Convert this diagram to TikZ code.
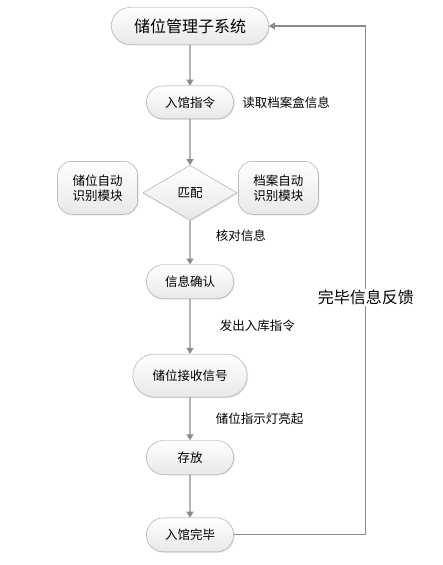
\documentclass[tikz,border=0pt]{standalone}
\usepackage{fontspec}
\setmainfont{Noto Sans CJK SC}
\usepackage{tikz}
\usetikzlibrary{arrows.meta, positioning, shapes.misc, shapes.geometric, shadows}

\begin{document}
\begin{tikzpicture}[
    node distance=42pt,
    auto,
    pill/.style={
        rounded rectangle,
        draw=gray!75,
        thin,
        top color=white,
        bottom color=gray!18,
        drop shadow={shadow xshift=1pt, shadow yshift=-1pt, opacity=0.2},
        minimum width=94pt,
        minimum height=33pt,
        font=\fontsize{12.5}{14}\selectfont
    },
    module/.style={
        rectangle,
        draw=gray!75,
        thin,
        top color=white,
        bottom color=gray!18,
        drop shadow={shadow xshift=1pt, shadow yshift=-1pt, opacity=0.2},
        rounded corners=14pt,
        minimum width=80pt,
        minimum height=53pt,
        align=center,
        font=\fontsize{12.5}{15}\selectfont
    },
    check/.style={
        diamond,
        draw=gray!75,
        thin,
        top color=white,
        bottom color=gray!18,
        drop shadow={shadow xshift=1pt, shadow yshift=-1pt, opacity=0.2},
        inner sep=0pt,
        minimum width=94pt,
        minimum height=55pt,
        font=\fontsize{12.5}{14}\selectfont
    },
    note/.style={
        text=black,
        font=\fontsize{12.5}{14}\selectfont
    },
    arrow/.style={
        -{Triangle[width=7pt,length=6pt]},
        line width=1.1pt,
        color=gray!90
    }
]

\useasboundingbox (0,0) rectangle (443pt,-565pt);

% Nodes
\node[pill, minimum width=164pt, minimum height=37pt, font=\fontsize{16}{18}\selectfont] (sys) at (190pt,-26pt) {储位管理子系统};
\node[pill, below=41pt of sys] (inbound) {入馆指令};
\node[note, right=5pt of inbound] (read) {读取档案盒信息};
\node[check, below=46pt of inbound] (match) {匹配};
\node[module, left=5pt of match, yshift=5pt] (slotid) {储位自动\\识别模块};
\node[module, right=1pt of match, yshift=5pt] (fileid) {档案自动\\识别模块};
\node[pill, minimum height=34pt, below=44pt of match] (confirm) {信息确认};
\node[pill, minimum width=121pt, minimum height=43pt, below=55pt of confirm] (receive) {储位接收信号};
\node[pill, minimum height=34pt, below=43pt of receive] (store) {存放};
\node[pill, minimum height=34pt, below=43pt of store] (done) {入馆完毕};

% Arrows
\draw[arrow] (sys) -- (inbound);
\draw[arrow] (inbound) -- (match);
\draw[arrow] (match) -- node[note, pos=0.35, right=22pt] {核对信息} (confirm);
\draw[arrow] (confirm) -- node[note, pos=0.49, right=26pt] {发出入库指令} (receive);
\draw[arrow] (receive) -- node[note, pos=0.51, right=22pt] {储位指示灯亮起} (store);
\draw[arrow] (store) -- (done);
\draw[arrow] (done.east) -- ++(132pt,0) |- node[note, pos=0.233, anchor=center, fill=white, inner sep=1pt, font=\fontsize{16}{18}\selectfont] {完毕信息反馈} (sys.east);

\end{tikzpicture}
\end{document}
